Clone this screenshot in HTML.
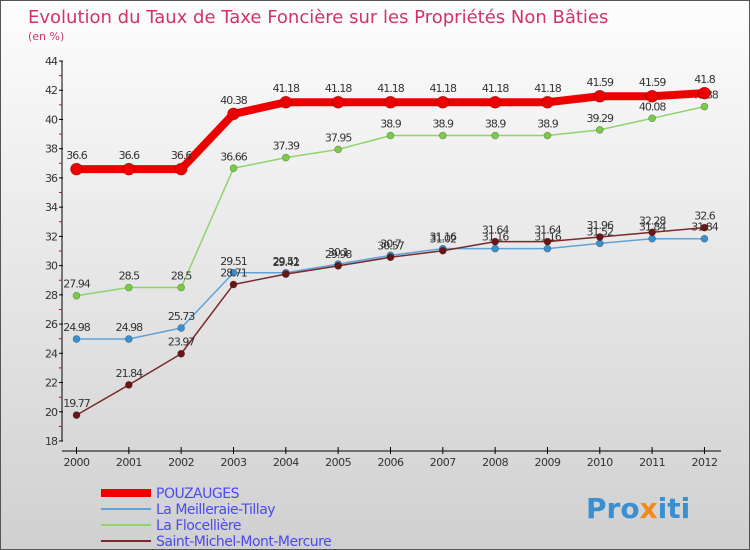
<!DOCTYPE html>
<html><head><meta charset="utf-8"><style>
body{margin:0;}
#c{width:750px;height:550px;position:relative;background:linear-gradient(#fdfdfd,#d0d0d0);box-sizing:border-box;border:1px solid #555;font-family:"DejaVu Sans","Liberation Sans",sans-serif;overflow:hidden}
svg text{font-family:"DejaVu Sans","Liberation Sans",sans-serif}
</style></head><body>
<div id="c">
<svg id="s" width="750" height="550">
<text x="27" y="22" font-size="18" fill="#d0336c">Evolution du Taux de Taxe Foncière sur les Propriétés Non Bâties</text>
<text x="27" y="39" font-size="11" fill="#d0336c">(en %)</text>
<g id="g"></g>
<text x="585" y="517" font-size="28" font-weight="bold" fill="#3a8fd0">Pro<tspan fill="#f08a1c">x</tspan>iti</text>
</svg>
</div>
<script>
const years=[2000,2001,2002,2003,2004,2005,2006,2007,2008,2009,2010,2011,2012];
const yTicks=[18,20,22,24,26,28,30,32,34,36,38,40,42,44];
const pouzauges=[36.6,36.6,36.6,40.38,41.18,41.18,41.18,41.18,41.18,41.18,41.59,41.59,41.8];
const meilleraie=[24.98,24.98,25.73,29.51,29.51,30.1,30.7,31.16,31.16,31.16,31.52,31.84,31.84];
const flocelliere=[27.94,28.5,28.5,36.66,37.39,37.95,38.9,38.9,38.9,38.9,39.29,40.08,40.88];
const stmichel=[19.77,21.84,23.97,28.71,29.42,29.98,30.57,31.02,31.64,31.64,31.96,32.28,32.6];
const names=["POUZAUGES","La Meilleraie-Tillay","La Flocellière","Saint-Michel-Mont-Mercure"];
const NS="http://www.w3.org/2000/svg";
const g=document.getElementById('g');
const X=i=>75.5+i*52.33;
const Y=v=>440-(v-18)*14.615;
function el(t,a,p){const e=document.createElementNS(NS,t);for(const k in a)e.setAttribute(k,a[k]);(p||g).appendChild(e);return e;}
// axes
let ax=el('line',{x1:61,y1:60,x2:61,y2:440,stroke:'#000'});


let bx=el('line',{x1:61,y1:450,x2:720,y2:450,stroke:'#000'});


yTicks.forEach(v=>{
  el('line',{x1:58,y1:Y(v),x2:62,y2:Y(v),stroke:'#000'});
  if(v<44)el('line',{x1:58,y1:Y(v+1),x2:61,y2:Y(v+1),stroke:'#e00'});
  const t=el('text',{x:56,y:Y(v)+4,'font-size':11,'text-anchor':'end',fill:'#333','letter-spacing':'-1'});
  t.textContent=v;
  
  
});
years.forEach((yr,i)=>{
  el('line',{x1:X(i),y1:446,x2:X(i),y2:453,stroke:'#000'});
  const t=el('text',{x:X(i),y:465,'font-size':11,'text-anchor':'middle',fill:'#333','letter-spacing':'-0.5'});
  t.textContent=yr;
  
  
});
function series(data,color,w,r,name,dot){
  const grp=el('g',{});
  
  
  el('polyline',{points:data.map((v,i)=>X(i)+','+Y(v)).join(' '),fill:'none',stroke:color,'stroke-width':w,'stroke-linejoin':'round'},grp);
  data.forEach((v,i)=>{
    const c=el('circle',{cx:X(i),cy:Y(v),r:r,fill:dot,stroke:'rgba(0,0,0,0.3)','stroke-width':0.7},grp);
    
    
    const t=el('text',{x:X(i),y:Y(v)-8-(r>4?2:0),'font-size':11,'text-anchor':'middle',fill:'#333','letter-spacing':'-1'},grp);
    t.textContent=v;
    
    
  });
}
series(flocelliere,'#8fd36a',1.5,3.5,'series-la-flocelliere','#7acb45');
series(meilleraie,'#5fa3d8',1.5,3.5,'series-la-meilleraie-tillay','#3a8fd0');
series(stmichel,'#7a2a2a',1.5,3.5,'series-saint-michel','#6a1616');
series(pouzauges,'#ee0000',8,6,'series-pouzauges','#ee0000');
const cols=['#ee0000','#5fa3d8','#8fd36a','#7a2a2a'];const ws=[8,2,2,2];
names.forEach((n,i)=>{
  const y=492+i*16;
  const l=el('line',{x1:100,y1:y,x2:150,y2:y,stroke:cols[i],'stroke-width':ws[i]});
  
  
  const t=el('text',{x:155,y:y+5,'font-size':14,fill:'#4a4af0','letter-spacing':'-0.5'});
  t.textContent=n;
  
  
});
</script>
</body></html>
